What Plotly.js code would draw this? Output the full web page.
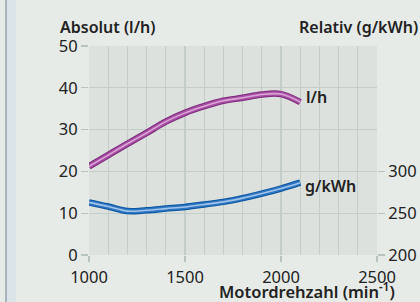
<!DOCTYPE html>
<html><head><meta charset="utf-8">
<script src="https://cdn.plot.ly/plotly-3.0.1.min.js"></script>
<style>html,body{margin:0;padding:0;background:#e6ebe7;}#c{width:420px;height:302px;}</style>
</head><body><div id="c"></div>
<script>
const rpm = [1000, 1100, 1200, 1300, 1400, 1500, 1600, 1700, 1800, 1900, 2000, 2100];
const litersPerHour = [21.2, 23.9, 26.6, 29.2, 31.9, 34.0, 35.6, 36.9, 37.6, 38.4, 38.5, 36.6];
const gramsPerKWh = [263, 258, 252.5, 253.5, 255.5, 257.5, 260.5, 263.5, 268, 273.5, 279.5, 286.5];
const xTicks = [1000, 1500, 2000, 2500];
const leftTicks = [0, 10, 20, 30, 40, 50];
const rightTicks = [200, 250, 300];
const seriesLabels = ['l/h', 'g/kWh'];

const font = 'Noto Sans, DejaVu Sans, sans-serif';
const ink = '#222222';

function tube(x, y, axis, dark, mid, light) {
  return [
    {x, y, yaxis: axis, mode: 'lines', line: {color: dark, width: 6.5, shape: 'spline'}, hoverinfo: 'skip'},
    {x, y, yaxis: axis, mode: 'lines', line: {color: mid, width: 4.5, shape: 'spline'}, hoverinfo: 'skip'},
    {x, y, yaxis: axis, mode: 'lines', line: {color: light, width: 1.6, shape: 'spline'}, hoverinfo: 'skip'}
  ];
}

const data = [
  ...tube(rpm, litersPerHour, 'y', '#7e2a7c', '#a84fa5', '#d9a6d6'),
  ...tube(rpm, gramsPerKWh, 'y2', '#0a54a0', '#2d76c2', '#a2c3e9')
];

const layout = {
  width: 420, height: 302,
  margin: {l: 89, r: 43, t: 46, b: 47, pad: 0},
  paper_bgcolor: '#e6ebe7',
  plot_bgcolor: '#dce1dd',
  showlegend: false,
  font: {family: font, color: ink, size: 16},
  xaxis: {
    range: [1000, 2500], tickvals: xTicks, ticktext: xTicks.map(String),
    showgrid: true, gridcolor: '#c3cec8', gridwidth: 1.3,
    minor: {dtick: 100, showgrid: true, gridcolor: '#c3cec8', gridwidth: 1.3},
    ticks: 'outside', ticklen: 6, tickcolor: '#b7c3bd', tickwidth: 1.3,
    ticklabelstandoff: 1,
    zeroline: false, showline: false, fixedrange: true,
    tickfont: {family: font, size: 16.5, color: ink}
  },
  yaxis: {
    range: [0, 50], tickvals: leftTicks,
    showgrid: true, gridcolor: '#c3cec8', gridwidth: 1.3,
    ticks: 'outside', ticklen: 7, tickcolor: '#b7c3bd', tickwidth: 1.3,
    zeroline: false, showline: false, fixedrange: true,
    tickfont: {family: font, size: 16.5, color: ink}
  },
  yaxis2: {
    range: [200, 450], tickvals: rightTicks, overlaying: 'y', side: 'right',
    showgrid: false, zeroline: false, showline: false,
    ticks: 'outside', ticklen: 7, tickcolor: '#b7c3bd', tickwidth: 1.3,
    fixedrange: true,
    tickfont: {family: font, size: 16.5, color: ink}
  },
  shapes: [
    {type: 'rect', xref: 'paper', yref: 'paper', x0: (5 - 89) / 288, x1: (7 - 89) / 288, y0: -0.3, y1: 1.3, fillcolor: '#a9b4b8', line: {width: 0}, layer: 'below'},
    {type: 'rect', xref: 'paper', yref: 'paper', x0: (7 - 89) / 288, x1: (16 - 89) / 288, y0: -0.3, y1: 1.3, fillcolor: '#dbe4e8', line: {width: 0}, layer: 'below'}
  ],
  annotations: [
    {xref: 'paper', yref: 'paper', x: (58 - 89) / 288, y: 1 + (46 - 40) / 209, xanchor: 'left', yanchor: 'bottom', align: 'left', showarrow: false,
     text: 'Absolut (l/h)', font: {family: font, size: 16, color: ink, weight: 600}},
    {xref: 'paper', yref: 'paper', x: (420 - 89) / 288, y: 1 + (46 - 40) / 209, xanchor: 'right', yanchor: 'bottom', align: 'right', showarrow: false,
     text: 'Relativ (g/kWh)', font: {family: font, size: 16, color: ink, weight: 600}},
    {xref: 'paper', yref: 'paper', x: (397 - 89) / 288, y: -(277 - 255) / 209, xanchor: 'right', yanchor: 'top', align: 'right', showarrow: false,
     text: 'Motordrehzahl (min<sup>-1</sup>)', font: {family: font, size: 16.5, color: ink, weight: 600}},
    {xref: 'x', yref: 'y', x: rpm[rpm.length - 1], y: litersPerHour[litersPerHour.length - 1] + 1.2, xanchor: 'left', yanchor: 'middle', align: 'left', xshift: 4, showarrow: false,
     text: seriesLabels[0], font: {family: font, size: 16, color: ink, weight: 600}},
    {xref: 'x', yref: 'y2', x: rpm[rpm.length - 1], y: gramsPerKWh[gramsPerKWh.length - 1] - 3.5, xanchor: 'left', yanchor: 'middle', align: 'left', xshift: 3, showarrow: false,
     text: seriesLabels[1], font: {family: font, size: 16, color: ink, weight: 600}}
  ]
};

Plotly.newPlot('c', data, layout, {displayModeBar: false, staticPlot: true});
</script></body></html>
